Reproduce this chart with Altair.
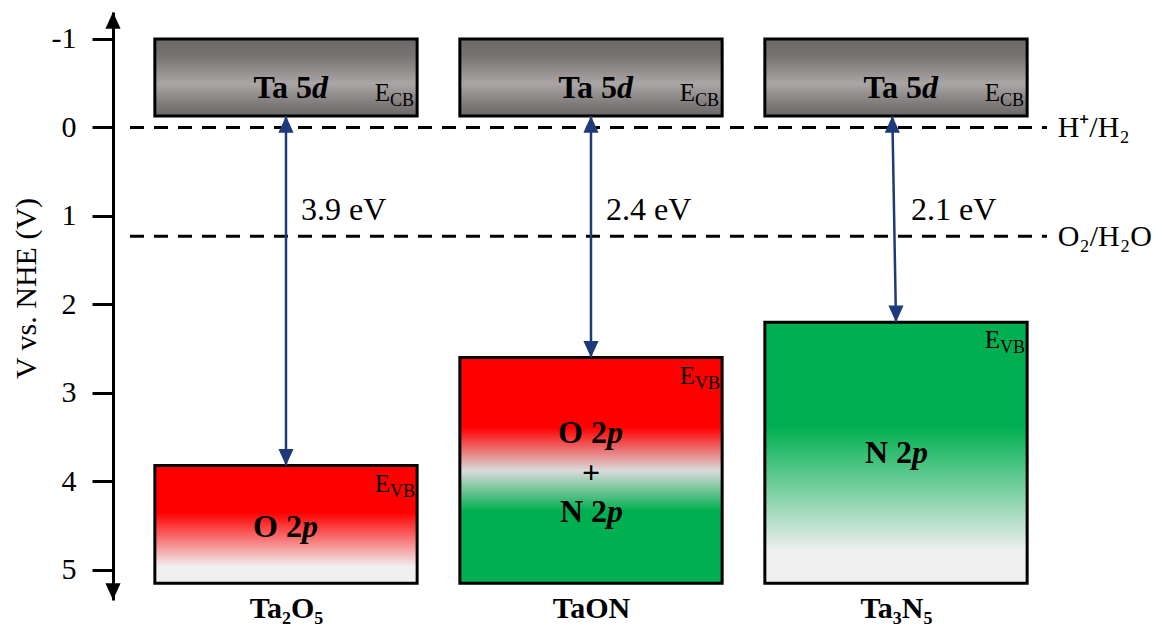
import json
import altair as alt
import pandas as pd

FONT = "Liberation Serif"
NAVY = "#1f3a78"

# ---------------- data ----------------
compounds = ["Ta₂O₅", "TaON", "Ta₃N₅"]
x_pos = [1, 2, 3]
cb_top = [-1.0, -1.0, -1.0]
cb_bottom = [-0.13, -0.13, -0.13]
vb_top = [3.82, 2.60, 2.20]
vb_bottom = [5.15, 5.15, 5.15]
gap_labels = ["3.9 eV", "2.4 eV", "2.1 eV"]
gap_label_y = [1.045, 1.045, 1.045]
arrow_x_top = [1.0, 2.0, 2.988]
arrow_x_bottom = [1.0, 2.0, 3.0]
redox_levels = [0.0, 1.23]
redox_labels = ["H⁺/H₂", "O₂/H₂O"]
y_ticks = [-1, 0, 1, 2, 3, 4, 5]
cb_main = ["Ta 5", "Ta 5", "Ta 5"]
cb_ital = ["d", "d", "d"]
orb_main = ["O 2", "O 2", "N 2", "N 2"]
orb_ital = ["p", "p", "p", "p"]
orb_x = [1, 2, 2, 3]
orb_y = [4.627, 3.565, 4.458, 3.79]
plus_x = [2]
plus_y = [3.904]

# layout constants
half_width = 0.43
x_domain = [0.4328, 3.8328]
y_domain = [-1.305, 5.339]
line_start, line_end = 0.4885, 3.495
label_x = 3.530

xscale = alt.Scale(domain=x_domain, nice=False, zero=False)
yscale = alt.Scale(domain=y_domain, reverse=True, nice=False, zero=False)

df = pd.DataFrame({
    "name": compounds, "x": x_pos,
    "xl": [v - half_width for v in x_pos], "xr": [v + half_width for v in x_pos],
    "cb_top": cb_top, "cb_bottom": cb_bottom,
    "vb_top": vb_top, "vb_bottom": vb_bottom,
    "gap": gap_labels, "gap_y": gap_label_y,
    "ax_top": arrow_x_top, "ax_bot": arrow_x_bottom,
    "cb_main": cb_main, "cb_ital": cb_ital,
})
df_redox = pd.DataFrame({"level": redox_levels, "label": redox_labels,
                         "x1": [line_start] * 2, "x2": [line_end] * 2,
                         "lx": [label_x] * 2})
df_orb = pd.DataFrame({"x": orb_x, "y": orb_y, "main": orb_main, "ital": orb_ital})
df_plus = pd.DataFrame({"x": plus_x, "y": plus_y, "t": ["+"]})
df_axis = pd.DataFrame({"x": [x_domain[0]], "ytop": [y_domain[0]], "ybot": [y_domain[1]]})

yaxis = alt.Axis(
    values=y_ticks, labelExpr="'' + datum.value", title="V vs. NHE (V)",
    titleFont=FONT, titleFontSize=30, titleFontWeight="normal", titleColor="black",
    titleAngle=270, titleX=-87, titleY=276, titleAlign="center", titleBaseline="middle",
    labelFont=FONT, labelFontSize=30, labelColor="black", labelPadding=16,
    tickSize=21, tickWidth=3, tickColor="black", domainColor="black", domainWidth=3,
    grid=False,
)
xaxis = alt.Axis(
    values=x_pos, labelExpr=json.dumps(compounds, ensure_ascii=False) + "[datum.value - 1]",
    domain=False, ticks=False, grid=False, labelFont=FONT, labelFontSize=30,
    labelFontWeight="bold", labelColor="black", labelPadding=-7, title=None,
    labelFlush=False, labelOverlap=False,
)


def X(field):
    return alt.X(field, type="quantitative", scale=xscale, axis=xaxis)


def Y(field):
    return alt.Y(field, type="quantitative", scale=yscale, axis=yaxis)


def grad(stops):
    return alt.Gradient(gradient="linear", x1=0, x2=0, y1=0, y2=1,
                        stops=[alt.GradientStop(color=c, offset=o) for o, c in stops])


gray = grad([(0, "#6c6868"), (0.22, "#777373"), (0.58, "#aaa6a6"), (0.85, "#7e7a7a"), (1, "#6c6868")])
vb_grads = [
    grad([(0, "#ff0000"), (0.40, "#ff0000"), (0.86, "#f0f0f0"), (1, "#f0f0f0")]),
    grad([(0, "#ff0000"), (0.31, "#ff0000"), (0.50, "#dadada"), (0.68, "#00b050"), (1, "#00b050")]),
    grad([(0, "#00b050"), (0.40, "#00b050"), (0.88, "#f0f0f0"), (1, "#f0f0f0")]),
]

# dashed redox lines
redox = alt.Chart(df_redox).mark_rule(color="black", strokeWidth=3, strokeDash=[14, 10]).encode(
    x=X("x1"), x2="x2:Q", y=Y("level"))
redox_text = alt.Chart(df_redox).mark_text(font=FONT, fontSize=30, align="left", baseline="alphabetic",
                                           dy=10, color="black").encode(
    x=X("lx"), y=Y("level"), text="label:N")

# axis arrowheads
UP = "M0,0L-1,2.2L1,2.2Z"
DOWN = "M0,0L-1,-2.2L1,-2.2Z"
ax_up = alt.Chart(df_axis).mark_point(shape=UP, size=230, filled=True, color="black", opacity=1).encode(
    x=X("x"), y=Y("ytop"))
ax_down = alt.Chart(df_axis).mark_point(shape=DOWN, size=230, filled=True, color="black", opacity=1).encode(
    x=X("x"), y=Y("ybot"))

# conduction band boxes
cb = alt.Chart(df).mark_rect(color=gray, stroke="black", strokeWidth=3).encode(
    x=X("xl"), x2="xr:Q", y=Y("cb_top"), y2="cb_bottom:Q")

# valence band boxes (one layer each for its own gradient)
vb_layers = []
for i in range(3):
    vb_layers.append(
        alt.Chart(df.iloc[[i]]).mark_rect(color=vb_grads[i], stroke="black", strokeWidth=3).encode(
            x=X("xl"), x2="xr:Q", y=Y("vb_top"), y2="vb_bottom:Q"))

# band-gap arrows
arrows = alt.Chart(df).mark_rule(color=NAVY, strokeWidth=2.5).encode(
    x=X("ax_top"), x2="ax_bot:Q", y=Y("cb_bottom"), y2="vb_top:Q")
head_up = alt.Chart(df).mark_point(shape=UP, size=230, filled=True, color=NAVY, opacity=1).encode(
    x=X("ax_top"), y=Y("cb_bottom"))
head_down = alt.Chart(df).mark_point(shape=DOWN, size=230, filled=True, color=NAVY, opacity=1).encode(
    x=X("ax_bot"), y=Y("vb_top"))
gap_text = alt.Chart(df).mark_text(font=FONT, fontSize=32, align="left", baseline="alphabetic",
                                   dx=15, color="black").encode(
    x=X("x"), y=Y("gap_y"), text="gap:N")

# Ta 5d labels
cb_t1 = alt.Chart(df).mark_text(font=FONT, fontSize=32, fontWeight="bold", align="right",
                                baseline="alphabetic", dx=26, dy=-18, color="black").encode(
    x=X("x"), y=Y("cb_bottom"), text="cb_main:N")
cb_t2 = alt.Chart(df).mark_text(font=FONT, fontSize=32, fontWeight="bold", fontStyle="italic", align="left",
                                baseline="alphabetic", dx=26, dy=-18, color="black").encode(
    x=X("x"), y=Y("cb_bottom"), text="cb_ital:N")

# E_CB / E_VB
e_cb = alt.Chart(df).mark_text(font=FONT, fontSize=25, align="right", baseline="alphabetic",
                               dx=104, dy=-15, color="black").encode(
    x=X("x"), y=Y("cb_bottom"), text=alt.value("E"))
e_cb_sub = alt.Chart(df).mark_text(font=FONT, fontSize=18, align="left", baseline="alphabetic",
                                   dx=104, dy=-10, color="black").encode(
    x=X("x"), y=Y("cb_bottom"), text=alt.value("CB"))
e_vb = alt.Chart(df).mark_text(font=FONT, fontSize=25, align="right", baseline="alphabetic",
                               dx=104, dy=26, color="black").encode(
    x=X("x"), y=Y("vb_top"), text=alt.value("E"))
e_vb_sub = alt.Chart(df).mark_text(font=FONT, fontSize=18, align="left", baseline="alphabetic",
                                   dx=104, dy=31, color="black").encode(
    x=X("x"), y=Y("vb_top"), text=alt.value("VB"))

# orbital labels
orb1 = alt.Chart(df_orb).mark_text(font=FONT, fontSize=32, fontWeight="bold", align="right",
                                   baseline="alphabetic", dx=16, color="black").encode(
    x=X("x"), y=Y("y"), text="main:N")
orb2 = alt.Chart(df_orb).mark_text(font=FONT, fontSize=32, fontWeight="bold", fontStyle="italic", align="left",
                                   baseline="alphabetic", dx=16, color="black").encode(
    x=X("x"), y=Y("y"), text="ital:N")
plus = alt.Chart(df_plus).mark_text(font=FONT, fontSize=32, fontWeight="bold", align="center",
                                    baseline="middle", color="black").encode(
    x=X("x"), y=Y("y"), text="t:N")

chart = alt.layer(
    redox, redox_text, cb, *vb_layers, arrows, head_up, head_down, gap_text,
    cb_t1, cb_t2, e_cb, e_cb_sub, e_vb, e_vb_sub, orb1, orb2, plus, ax_up, ax_down,
).properties(
    width=1037, height=588,
    autosize=alt.AutoSizeParams(type="none"),
    padding={"left": 105, "top": 4, "right": 6, "bottom": 30},
    background="white",
).configure_view(stroke=None)

chart.save("out.html", embed_options={"renderer": "svg", "actions": False})
